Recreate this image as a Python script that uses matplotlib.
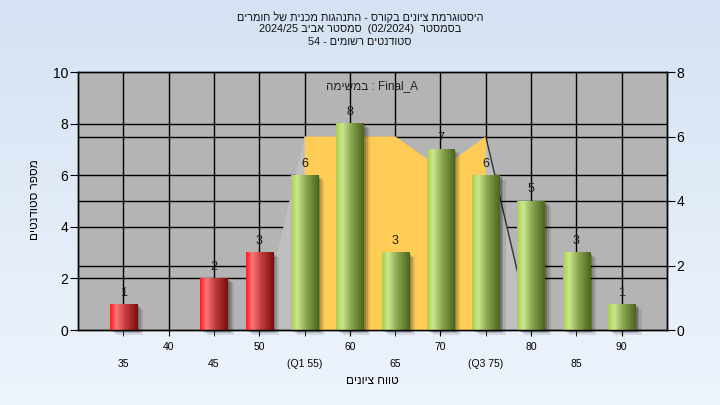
# Grade histogram for one course: bars per grade bin, plus the
# quartile band (Q1..Q3) drawn as a filled area on the right axis.

import re
import numpy as np
import matplotlib
matplotlib.use("Agg")
import matplotlib.pyplot as plt
from matplotlib.colors import LinearSegmentedColormap
from matplotlib.lines import Line2D
from matplotlib.patches import Rectangle

plt.rcParams["font.family"] = ["Liberation Sans", "DejaVu Sans"]

# -------------------------------------------------
# DATA
# -------------------------------------------------
TITLE_LINES = [
    "היסטוגרמת ציונים בקורס - התנהגות מכנית של חומרים",
    "בסמסטר  (02/2024)  סמסטר אביב 2024/25",
    "סטודנטים רשומים - 54",
]
TASK_LABEL = "במשימה : Final_A"
Y_LABEL = "מספר סטודנטים"
X_LABEL = "טווח ציונים"

grades = [35, 40, 45, 50, 55, 60, 65, 70, 75, 80, 85, 90]
counts = [1, 0, 2, 3, 6, 8, 3, 7, 6, 5, 3, 1]

q1, q3 = 55, 75
major_ticks = [40, 50, 60, 70, 80, 90]
minor_ticks = [35, 45, 55, 65, 75, 85]
minor_labels = ["35", "45", "(Q1 55)", "65", "(Q3 75)", "85"]

# area on the right axis (0..8)
curve_x = [50, 55, 60, 65, 70, 75, 80]
curve_y = [0, 6, 6, 6, 5, 6, 0]

HEB_RUN = re.compile(r"[\u0590-\u05ff]+(?:[ \-]+[\u0590-\u05ff]+)*")
LTR_RUN = re.compile(r"[0-9A-Za-z_/()]+")


def rtl(text):
    # right-to-left line: flip everything, then put number runs back
    return LTR_RUN.sub(lambda m: m.group(0)[::-1], text[::-1])


def heb(text):
    # left-to-right line: flip only the Hebrew runs
    return HEB_RUN.sub(lambda m: m.group(0)[::-1], text)


def main():
    fig = plt.figure(figsize=(7.2, 4.05), dpi=100)

    # background gradient
    bg = fig.add_axes([0, 0, 1, 1], zorder=-10)
    bg_cmap = LinearSegmentedColormap.from_list("bg", ["#d5e2f3", "#eef4fc"])
    bg.imshow(np.linspace(0, 1, 256).reshape(-1, 1), cmap=bg_cmap,
              aspect="auto", extent=[0, 1, 0, 1])
    bg.axis("off")

    ax = fig.add_axes([78 / 720, 75 / 405, 589 / 720, 258 / 405])
    ax.set_facecolor("#b4b4b4")
    ax2 = ax.twinx()

    ax.set_xlim(30, 95)
    ax.set_ylim(0, 10)
    ax2.set_ylim(0, 8)

    # grid
    for g in grades:
        ax.axvline(g, color="black", lw=1, zorder=1)
    for v in [2, 4, 6, 8]:
        ax.axhline(v, color="black", lw=1, zorder=1)
    for v in [2, 4, 6]:
        ax.add_line(Line2D([0, 1], [v, v], color="black", lw=1, zorder=1,
                           transform=ax2.get_yaxis_transform()))

    # quartile area (right-axis units, drawn on main axes for layering)
    cx = np.array(curve_x)
    cy = np.array(curve_y)
    ax.fill(cx, cy, color="#bfbfbf", lw=0, zorder=2, transform=ax2.transData)
    band = (cx >= q1) & (cx <= q3)
    ax.fill(np.r_[q1, cx[band], q3], np.r_[0, cy[band], 0], color="#ffcc55",
            lw=0, zorder=3, transform=ax2.transData)
    ax.plot(cx[cx >= q3], cy[cx >= q3], color="#333333", lw=1, zorder=3,
            transform=ax2.transData)

    # bars with cylinder shading
    red = LinearSegmentedColormap.from_list(
        "r", [(0, "#ff1c1c"), (0.22, "#ff7878"), (0.55, "#c23c3c"), (1, "#7c0d0d")])
    green = LinearSegmentedColormap.from_list(
        "g", [(0, "#a6d04a"), (0.22, "#cce792"), (0.55, "#8aa64e"), (1, "#4a6322")])
    grad = np.linspace(0, 1, 128).reshape(1, -1)
    w = 3
    for g, n in zip(grades, counts):
        if n == 0:
            continue
        for k, a in [(0.7, 0.10), (0.45, 0.15), (0.25, 0.2)]:
            ax.add_patch(Rectangle((g - w / 2 + k, -k * 0.25), w, n, color="black",
                                   alpha=a, lw=0, zorder=4, clip_on=False))
        cmap = red if g < q1 else green
        ax.imshow(grad, cmap=cmap, aspect="auto", interpolation="bilinear",
                  extent=[g - w / 2, g + w / 2, 0, n], zorder=5)
        ax.annotate(str(n), (g, n), xytext=(0, 4), textcoords="offset points",
                    ha="center", va="bottom", fontsize=9, color="#1a1a1a", zorder=6)

    ax.set_xlim(30, 95)
    ax.set_ylim(0, 10)

    # ticks
    ax.set_xticks(major_ticks)
    ax.set_xticklabels([str(t) for t in major_ticks])
    ax.set_xticks(minor_ticks, minor=True)
    ax.set_xticklabels(minor_labels, minor=True)
    ax.tick_params(axis="x", which="both", direction="out", length=4,
                   labelsize=7.5, colors="black")
    ax.tick_params(axis="x", which="major", pad=5)
    ax.tick_params(axis="x", which="minor", pad=17)
    ax.set_yticks(range(0, 11, 2))
    ax.tick_params(axis="y", direction="out", length=6, labelsize=10, pad=1)
    ax2.set_yticks(range(0, 9, 2))
    ax2.tick_params(axis="y", direction="out", length=6, labelsize=10, pad=1)
    for s in list(ax.spines.values()) + list(ax2.spines.values()):
        s.set_color("black")
        s.set_linewidth(1)

    # texts
    for i, line in enumerate(TITLE_LINES):
        fig.text(0.5, 1 - (17 + 12.5 * i) / 405, rtl(line), ha="center",
                 va="center", fontsize=7.8, color="#111111")
    ax.text(0.5, 0.946, heb(TASK_LABEL), transform=ax.transAxes,
            ha="center", va="center", fontsize=8.5, color="#222222", zorder=7)
    fig.text(35 / 720, 1 - 200 / 405, rtl(Y_LABEL), rotation=90, ha="center",
             va="center", fontsize=8.5)
    fig.text(372 / 720, 1 - 381 / 405, rtl(X_LABEL), ha="center", va="center",
             fontsize=8.5)

    fig.savefig("out.png", dpi=100)
    plt.close(fig)


if __name__ == "__main__":
    main()
